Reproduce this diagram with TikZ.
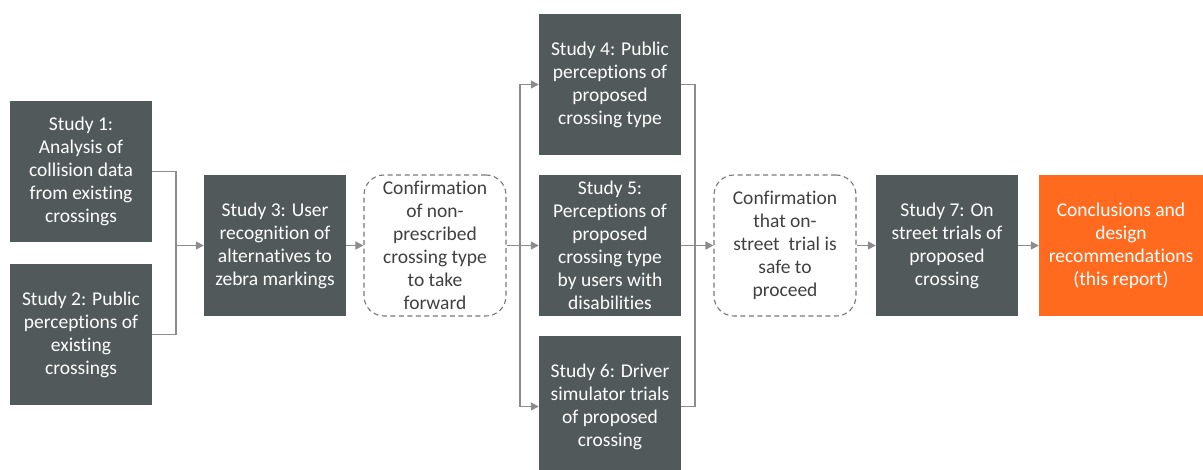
\documentclass[tikz,border=0pt]{standalone}
\usepackage{fontspec}
\setmainfont{Carlito}[RawFeature={-liga;-clig;-calt;-rlig;-dlig;-hlig}]
\usetikzlibrary{arrows.meta}
\definecolor{slate}{RGB}{81,89,91}
\definecolor{tangerine}{RGB}{255,106,31}
\definecolor{wire}{RGB}{140,140,140}
\definecolor{dashgrey}{RGB}{120,120,120}
\definecolor{inktext}{RGB}{64,64,64}
\tikzset{
  study/.style={fill=slate, text=white, minimum width=142, minimum height=141,
    align=center, inner sep=0pt, font=\fontsize{19.5}{23}\selectfont},
  report/.style={study, fill=tangerine, minimum width=164},
  gate/.style={draw=dashgrey, dash pattern=on 5pt off 3.5pt, line width=1.1pt,
    rounded corners=20pt, text=inktext, minimum width=142, minimum height=141,
    align=center, inner sep=0pt, font=\fontsize{19.5}{23}\selectfont},
  link/.style={draw=wire, line width=1.6pt}
}

\begin{document}
\begin{tikzpicture}[x=1pt, y=-1pt, >={Triangle[length=8pt,width=8pt]}]
    \useasboundingbox (0,0) rectangle (1203,470);

    % studies feeding in
    \node[study] (s1) at (81,171.5) {Study 1:\\Analysis of\\collision data\\from existing\\crossings};
    \node[study] (s2) at (81,334.5) {Study 2: Public\\perceptions of\\existing\\crossings};
    \node[study] (s3) at (275,245.5) {Study 3: User\\recognition of\\alternatives to\\zebra markings};
    \node[gate] (c1) at (435,245.5) {Confirmation\\of non-\\prescribed\\crossing type\\to take\\forward};

    % parallel studies
    \node[study] (s4) at (610,84.5) {Study 4: Public\\perceptions of\\proposed\\crossing type};
    \node[study] (s5) at (610,245.5) {Study 5:\\Perceptions of\\proposed\\crossing type\\by users with\\disabilities};
    \node[study] (s6) at (610,406.5) {Study 6: Driver\\simulator trials\\of proposed\\crossing};

    \node[gate] (c2) at (785,245.5) {Confirmation\\that on-\\street\ \ trial is\\safe to\\proceed};
    \node[study] (s7) at (947,245.5) {Study 7: On\\street trials of\\proposed\\crossing};
    \node[report] (res) at (1121,245.5) {Conclusions and\\design\\recommendations\\(this report)};

    \coordinate (j1) at (176,245.5);
    \coordinate (j2) at (520,245.5);
    \coordinate (j3) at (695,245.5);

    \draw[link] (s1) -| (j1) |- (s2);
    \draw[link,->] (j1) -- (s3);
    \draw[link,->] (s3) -- (c1);

    \draw[link] (c1) -- (j2);
    \draw[link,->] (j2) |- (s4);
    \draw[link,->] (j2) -- (s5);
    \draw[link,->] (j2) |- (s6);

    \draw[link] (s4) -| (j3) |- (s6);
    \draw[link,->] (s5) -- (c2);
    \draw[link,->] (c2) -- (s7);
    \draw[link,->] (s7) -- (res);

  \end{tikzpicture}
\end{document}
